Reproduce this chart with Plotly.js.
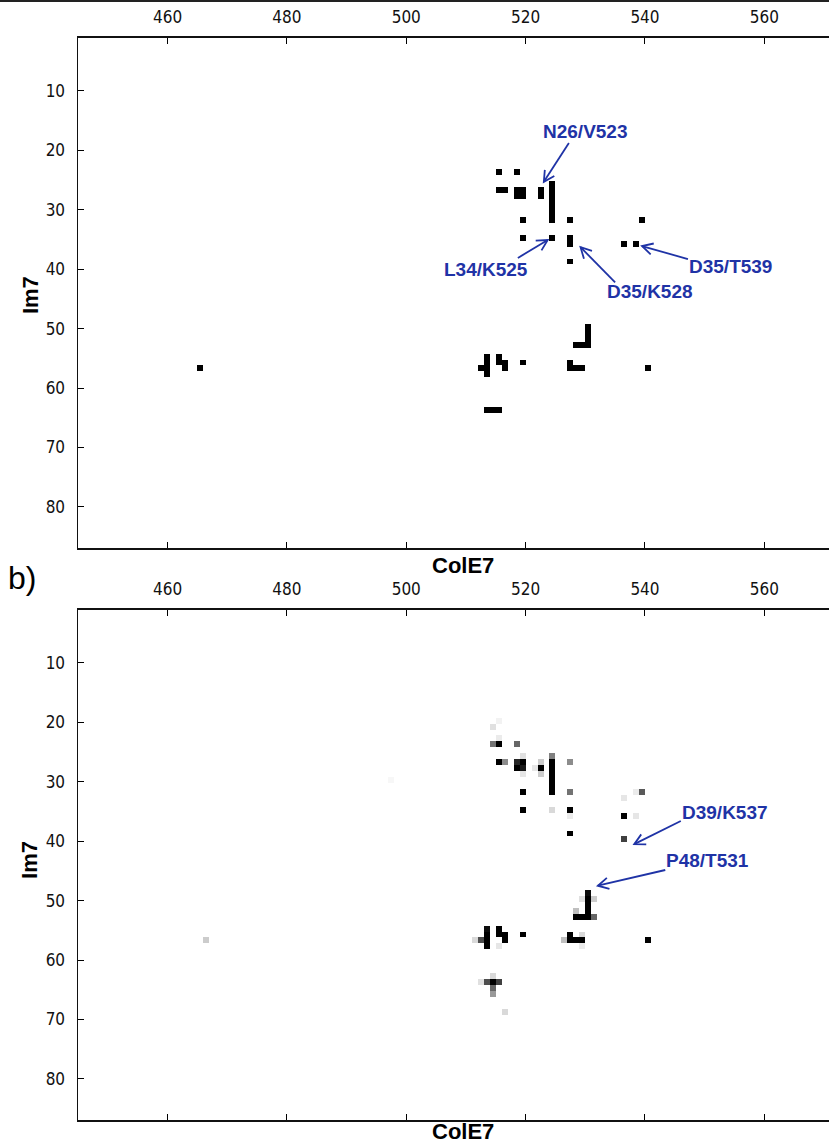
<!DOCTYPE html>
<html><head><meta charset="utf-8">
<script src="https://cdn.plot.ly/plotly-3.0.1.min.js"></script>
<style>html,body{margin:0;padding:0;overflow:hidden;background:#fff}#chart{width:840px;height:1144px}</style>
</head><body><div id="chart"></div>
<script>
// Residue ranges: ColE7 (x) and Im7 (y)
const colE7First = 446, colE7Last = 571;
const im7First = 1, im7Last = 86;
const xTickVals = [460, 480, 500, 520, 540, 560];
const yTickVals = [10, 20, 30, 40, 50, 60, 70, 80];

// Panel a) : binary contacts (ColE7 residue, Im7 residue, value)
const contactsA_ColE7 = [516,519, 516,517,519,520,523, 519,520,523, 525,525,525,525,525,525,525,
  520,528,540, 520,525,528, 528,537,539, 528, 466, 513,514,514,514,514, 516,516,517,517, 520,
  531,531,531,531,529,530, 528,528,529,530, 541, 514,515,516];
const contactsA_Im7 = [23,23, 26,26,26,26,26, 27,27,27, 25,26,27,28,29,30,31,
  31,31,31, 34,34,34, 35,35,35, 38, 56, 56,54,55,56,57, 54,55,55,56, 55,
  49,50,51,52,52,52, 55,56,56,56, 56, 63,63,63];
const contactsA_Value = contactsA_ColE7.map(() => 1);

// Panel b) : contact frequencies
const contactsB_ColE7 = [516,515,516,515,516,519,
  516,517,519,520,519,520,520,520,
  523,522,523,523,
  525,525,525,525,525,525,525,525,
  528,528,528,528,528,
  520,520,
  537,539,540,537,539,537,
  467,498,
  512,513,514,514,514,514,516,516,517,517,516,520,
  531,531,531,531,531,532,532,529,530,529,530,
  528,528,529,530,527,530,530,541,
  513,514,515,516,515,515,515,517];
const contactsB_Im7 = [19,20,22,23,23,23,
  26,26,26,26,27,27,25,28,
  26,27,27,28,
  25,26,27,28,29,30,31,34,
  26,31,34,35,38,
  31,34,
  32,31,31,35,35,39,
  56,29,
  56,56,54,55,56,57,54,55,55,56,57,55,
  48,49,50,51,52,49,52,52,52,51,49,
  55,56,56,56,56,55,57,56,
  63,63,63,63,62,64,65,68];
const contactsB_Value = [0.05,0.12,0.08,0.55,1,0.6,
  1,0.45,0.85,1,1,0.9,0.12,0.1,
  0.2,0.1,1,0.2,
  0.5,1,1,1,1,1,1,0.15,
  0.45,0.55,1,0.08,1,
  1,1,
  0.1,0.08,0.65,1,0.1,0.75,
  0.2,0.03,
  0.15,0.7,0.95,1,1,1,1,1,1,1,0.1,1,
  0.95,1,1,1,1,0.2,0.6,1,1,0.25,0.12,
  1,1,1,1,0.25,0.15,0.08,1,
  0.12,0.7,1,0.75,0.15,0.6,0.4,0.15];

// Labelled contacts
const labelText = ['N26/V523', 'L34/K525', 'D35/K528', 'D35/T539', 'D39/K537', 'P48/T531'];
const labelPanel = ['a', 'a', 'a', 'a', 'b', 'b'];

function buildGrid(xs, ys, vs) {
  const nx = colE7Last - colE7First + 1, ny = im7Last - im7First + 1;
  const z = Array.from({length: ny}, () => Array(nx).fill(null));
  xs.forEach((x, i) => { z[ys[i] - im7First][x - colE7First] = vs[i]; });
  return z;
}

const grey = [[0, '#ffffff'], [1, '#000000']];
function heat(xs, ys, vs, xa, ya) {
  return {type: 'heatmap', z: buildGrid(xs, ys, vs),
    x0: colE7First - 0.5, dx: 1, y0: im7First + 0.7, dy: 1,
    xaxis: xa, yaxis: ya, colorscale: grey, zmin: 0, zmax: 1,
    showscale: false, hoverongaps: false, zsmooth: false};
}

const tickFont = {family: 'DejaVu Sans Condensed, DejaVu Sans', size: 17, color: '#111'};
function xAxis(anchor) {
  return {range: [colE7First - 1, colE7Last], side: 'top', anchor: anchor,
    tickvals: xTickVals, ticks: 'inside', ticklen: 6, tickwidth: 1, tickcolor: '#000',
    showline: true, linecolor: '#111', linewidth: 1.5, mirror: 'ticks',
    showgrid: false, zeroline: false, tickfont: tickFont, ticklabelstandoff: 6};
}
function yAxis(domain, anchor) {
  return {range: [im7Last + 1, im7First], domain: domain, anchor: anchor,
    tickvals: yTickVals, ticks: 'inside', ticklen: 6, tickwidth: 1, tickcolor: '#000',
    showline: true, linecolor: '#111', linewidth: 1.5, mirror: false,
    showgrid: false, zeroline: false, tickfont: tickFont, ticklabelstandoff: 8};
}

const blue = '#1f33a6';
const labFont = {family: 'Liberation Sans, Arial, sans-serif', size: 19, color: blue};
// arrow geometry (tail -> head) and label-centre positions, in axis units
const arrowGeom = [
  {tail: [527.25, 18.75], head: [523.05, 25.3], text: [530.0, 16.9]},
  {tail: [518.7, 38.1], head: [523.7, 35.1], text: [513.3, 40.1]},
  {tail: [535.0, 42.2], head: [529.2, 36.3], text: [540.8, 43.8]},
  {tail: [547.2, 38.3], head: [539.5, 36.1], text: [554.4, 39.6]},
  {tail: [546.0, 36.6], head: [538.2, 40.5], text: [553.4, 35.1]},
  {tail: [543.4, 44.85], head: [532.1, 47.5], text: [550.4, 43.2]}
];
const pxX = 5.96, pxY = 5.94, headLen = 12, headAng = 28 * Math.PI / 180;
const shapes = [
  // frame line at the very top edge of the figure
  {type: 'line', xref: 'paper', yref: 'paper', x0: -0.11, x1: 1.02, y0: 0.9991, y1: 0.9991,
    line: {color: '#222', width: 2}}
];
const labels = [];
labelText.forEach((t, i) => {
  const g = arrowGeom[i];
  const xr = labelPanel[i] === 'a' ? 'x' : 'x2', yr = labelPanel[i] === 'a' ? 'y' : 'y2';
  const line = {color: blue, width: 1.8};
  shapes.push({type: 'line', xref: xr, yref: yr, x0: g.tail[0], y0: g.tail[1], x1: g.head[0], y1: g.head[1], line});
  const dx = (g.tail[0] - g.head[0]) * pxX, dy = (g.tail[1] - g.head[1]) * pxY;
  const L = Math.hypot(dx, dy), ux = dx / L, uy = dy / L;
  const pts = [headAng, -headAng].map(a => [
    g.head[0] + headLen * (ux * Math.cos(a) - uy * Math.sin(a)) / pxX,
    g.head[1] + headLen * (ux * Math.sin(a) + uy * Math.cos(a)) / pxY]);
  shapes.push({type: 'path', xref: xr, yref: yr, line,
    path: `M${pts[0][0]},${pts[0][1]} L${g.head[0]},${g.head[1]} L${pts[1][0]},${pts[1][1]}`});
  labels.push({text: '<b>' + t + '</b>', xref: xr, yref: yr, x: g.text[0], y: g.text[1],
    xanchor: 'center', yanchor: 'middle', showarrow: false, font: labFont});
});

const titleFont = {family: 'Liberation Sans, Arial, sans-serif', size: 22, color: '#000'};
const ann = (text, x, y, extra) => Object.assign({text, xref: 'paper', yref: 'paper', x, y,
  xanchor: 'center', yanchor: 'middle', showarrow: false, font: titleFont}, extra || {});

const layout = {
  width: 840, height: 1144, margin: {l: 78, r: 10, t: 0, b: 0},
  paper_bgcolor: '#fff', plot_bgcolor: '#fff', showlegend: false,
  xaxis: xAxis('y'), yaxis: yAxis([0.52063, 0.96722], 'x'),
  xaxis2: xAxis('y2'), yaxis2: yAxis([0.02063, 0.46722], 'x2'),
  shapes: shapes,
  annotations: [
    ann('<b>ColE7</b>', 0.512, 0.5061),
    ann('<b>ColE7</b>', 0.512, 0.0108),
    ann('<b>Im7</b>', -0.0638, 0.7421, {textangle: -90}),
    ann('<b>Im7</b>', -0.0638, 0.2483, {textangle: -90}),
    ann('b)', -0.0745, 0.4948, {font: {family: 'Liberation Sans, Arial, sans-serif', size: 32, color: '#000'}})
  ].concat(labels)
};

Plotly.newPlot('chart', [
  heat(contactsA_ColE7, contactsA_Im7, contactsA_Value, 'x', 'y'),
  heat(contactsB_ColE7, contactsB_Im7, contactsB_Value, 'x2', 'y2')
], layout, {staticPlot: true, displayModeBar: false});
</script></body></html>
